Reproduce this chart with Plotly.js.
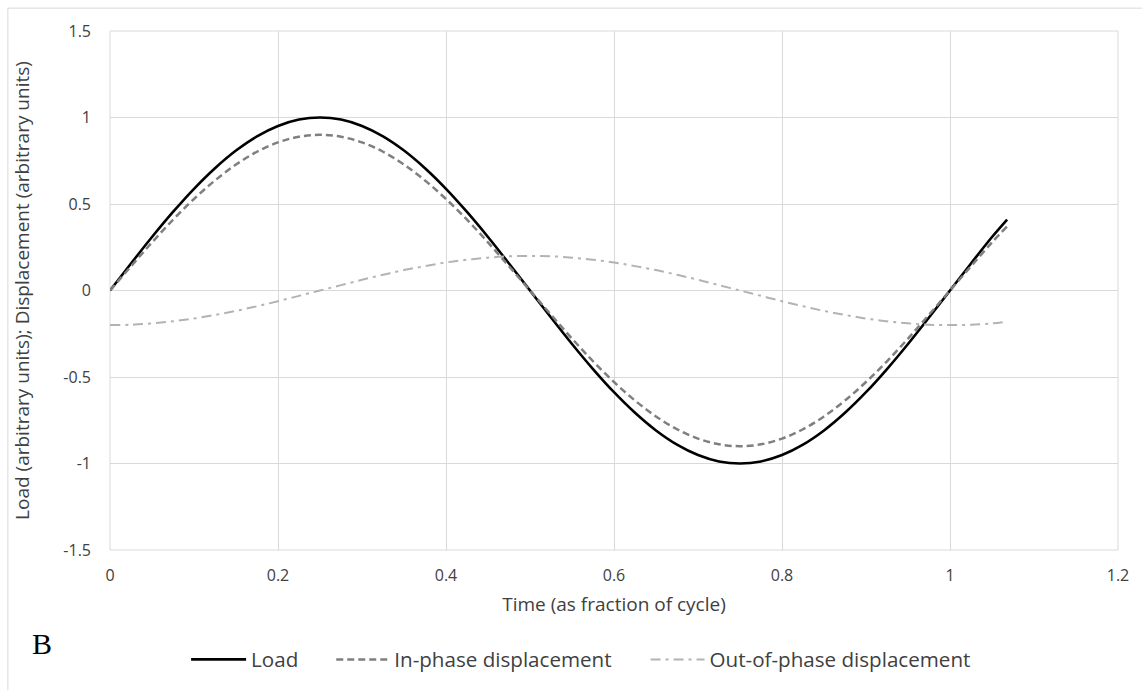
<!DOCTYPE html>
<html>
<head>
<meta charset="utf-8">
<script src="https://cdn.plot.ly/plotly-3.0.1.min.js"></script>
<style>html,body{margin:0;padding:0;background:#fff;}#chart{width:1142px;height:691px;}</style>
</head>
<body>
<div id="chart"></div>
<script>
// Time (fraction of cycle)
const time = [0,0.025,0.05,0.075,0.1,0.125,0.15,0.175,0.2,0.225,0.25,0.275,0.3,0.325,0.35,0.375,0.4,0.425,0.45,0.475,0.5,
  0.525,0.55,0.575,0.6,0.625,0.65,0.675,0.7,0.725,0.75,0.775,0.8,0.825,0.85,0.875,0.9,0.925,0.95,0.975,1.0,1.025,1.05,1.068];
// Load (arbitrary units)
const load = [0,0.156,0.309,0.454,0.588,0.707,0.809,0.891,0.951,0.988,1.0,0.988,0.951,0.891,0.809,0.707,0.588,0.454,0.309,0.156,0,
  -0.156,-0.309,-0.454,-0.588,-0.707,-0.809,-0.891,-0.951,-0.988,-1.0,-0.988,-0.951,-0.891,-0.809,-0.707,-0.588,-0.454,-0.309,-0.156,0,0.156,0.309,0.41];
// In-phase displacement
const inPhase = [0,0.140,0.278,0.409,0.529,0.636,0.728,0.802,0.856,0.889,0.9,0.889,0.856,0.802,0.728,0.636,0.529,0.409,0.278,0.140,0,
  -0.140,-0.278,-0.409,-0.529,-0.636,-0.728,-0.802,-0.856,-0.889,-0.9,-0.889,-0.856,-0.802,-0.728,-0.636,-0.529,-0.409,-0.278,-0.140,0,0.140,0.278,0.37];
// Out-of-phase displacement
const outPhase = [-0.2,-0.198,-0.190,-0.178,-0.162,-0.141,-0.118,-0.091,-0.062,-0.031,0,0.031,0.062,0.091,0.118,0.141,0.162,0.178,0.190,0.198,0.2,
  0.198,0.190,0.178,0.162,0.141,0.118,0.091,0.062,0.031,0,-0.031,-0.062,-0.091,-0.118,-0.141,-0.162,-0.178,-0.190,-0.198,-0.2,-0.198,-0.190,-0.18];
const seriesNames = ["Load","In-phase displacement","Out-of-phase displacement"];
const xTicks = [0,0.2,0.4,0.6,0.8,1,1.2];
const yTicks = [-1.5,-1,-0.5,0,0.5,1,1.5];

const font = "Open Sans, Noto Sans, sans-serif";
const txt = "#404040";
const traces = [
  {x: time, y: load, name: seriesNames[0], mode: "lines", legend: "legend",
   line: {color: "#000000", width: 2.6, shape: "spline"}},
  {x: time, y: inPhase, name: seriesNames[1], mode: "lines", legend: "legend2",
   line: {color: "#7f7f7f", width: 2.5, dash: "7px,4px", shape: "spline"}},
  {x: time, y: outPhase, name: seriesNames[2], mode: "lines", legend: "legend3",
   line: {color: "#b3b3b3", width: 2, dash: "10px,5px,3px,5px", shape: "spline"}}
];
function leg(x, w) {
  return {orientation: "h", x: x, xanchor: "left", y: -0.211, yanchor: "middle", itemwidth: w,
    font: {family: font, size: 20.6, color: txt}, bgcolor: "rgba(0,0,0,0)"};
}
const layout = {
  width: 1142, height: 691,
  margin: {l: 110, r: 24, t: 31, b: 139},
  paper_bgcolor: "#ffffff", plot_bgcolor: "#ffffff",
  font: {family: font, size: 16, color: txt},
  showlegend: true,
  legend: leg(0.0755, 55),
  legend2: leg(0.2195, 53),
  legend3: leg(0.5313, 54),
  xaxis: {range: [0, 1.2], tickvals: xTicks, ticktext: xTicks.map(String), showgrid: true, gridcolor: "#d9d9d9", gridwidth: 1,
    zeroline: false, showline: false, ticks: "", ticklabelstandoff: 14, tickfont: {size: 16, color: txt},
    title: {text: "Time (as fraction of cycle)", font: {size: 19, color: txt}, standoff: 12}},
  yaxis: {range: [-1.5, 1.5], tickvals: yTicks, ticktext: yTicks.map(String), showgrid: true, gridcolor: "#d9d9d9", gridwidth: 1,
    zeroline: true, zerolinecolor: "#d9d9d9", zerolinewidth: 1, showline: false, ticks: "", ticklabelstandoff: 18,
    tickfont: {size: 16, color: txt},
    title: {text: "Load (arbitrary units); Displacement (arbitrary units)", font: {size: 19, color: txt}, standoff: 28}},
  shapes: [
    {type: "rect", xref: "paper", yref: "paper", x0: 0, x1: 1, y0: 0, y1: 1, line: {color: "#d9d9d9", width: 1}, layer: "below"},
    {type: "line", xref: "paper", yref: "paper", x0: -0.1013, x1: 1.03, y0: 1.044, y1: 1.044, line: {color: "#d9d9d9", width: 1}},
    {type: "line", xref: "paper", yref: "paper", x0: -0.1013, x1: -0.1013, y0: -0.27, y1: 1.044, line: {color: "#d9d9d9", width: 1}}
  ],
  annotations: [
    {text: "B", xref: "paper", yref: "paper", x: -0.0675, y: -0.181, xanchor: "center", yanchor: "middle", showarrow: false,
      font: {family: "Liberation Serif, serif", size: 30, color: "#000000"}}
  ]
};
Plotly.newPlot("chart", traces, layout, {displayModeBar: false, staticPlot: true});
</script>
</body>
</html>
